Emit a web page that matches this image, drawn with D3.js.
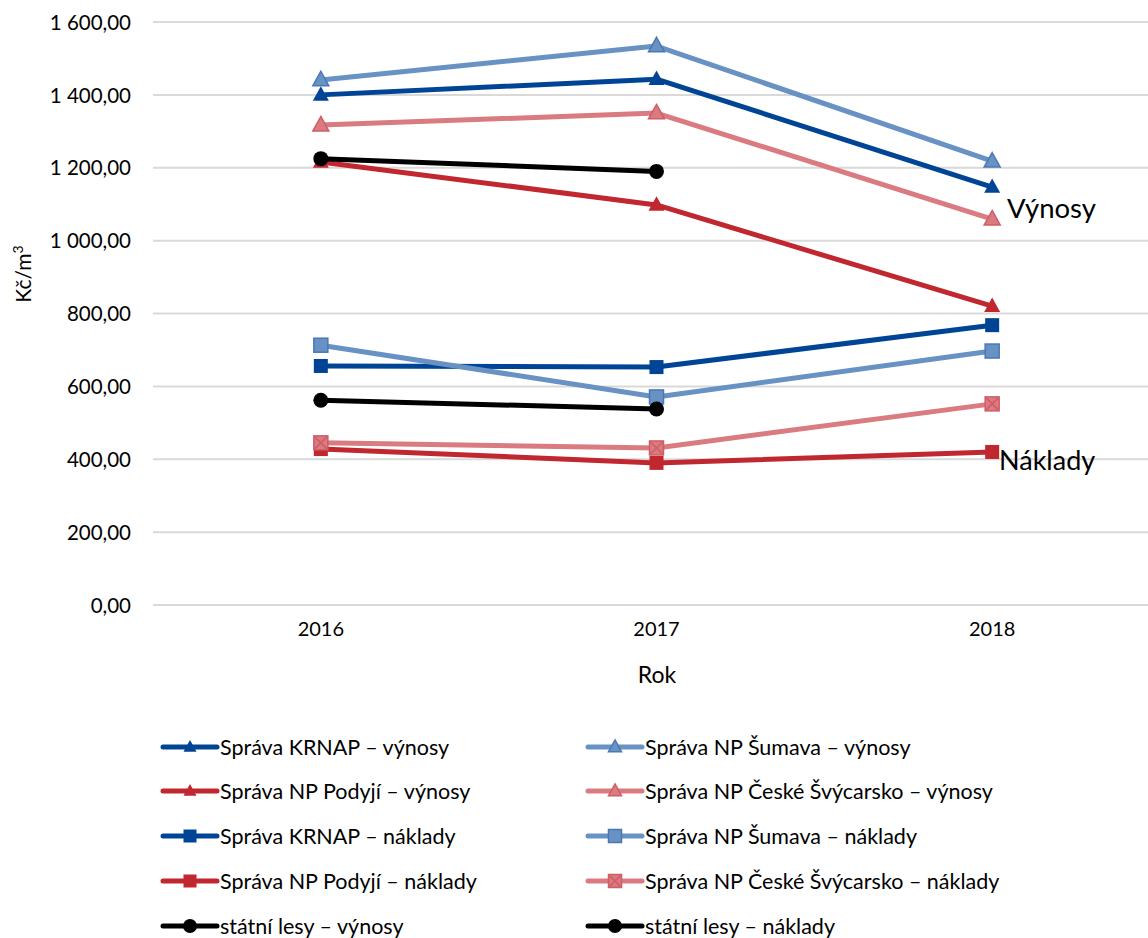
<!DOCTYPE html>
<html>
<head>
  <meta charset="utf-8">
  <title>Kč/m3</title>
  <style type="text/css">
    body { margin: 0; background: #fff; }
    svg text { font-family: Lato, "Open Sans", sans-serif; fill: #000; }
    .grid line { stroke: #d9d9d9; stroke-width: 2px; }
    .axis path, .axis line { display: none; }
  </style>
</head>
<body>
<div id="chart"></div>
<script src="https://cdnjs.cloudflare.com/ajax/libs/d3/7.8.5/d3.min.js"></script>
<script type="text/javascript">
  // data
  var years = ['2016', '2017', '2018'];
  var yTicks = [0, 200, 400, 600, 800, 1000, 1200, 1400, 1600];

  var krnapVynosy = [1400, 1443, 1147];
  var sumavaVynosy = [1441, 1534, 1218];
  var podyjiVynosy = [1216, 1098, 820];
  var csVynosy = [1317, 1350, 1059];
  var krnapNaklady = [656, 653, 768];
  var sumavaNaklady = [713, 571, 697];
  var podyjiNaklady = [428, 390, 420];
  var csNaklady = [445, 431, 552];
  var lesyVynosy = [1225, 1190, null];
  var lesyNaklady = [562, 538, null];

  var seriesNames = [
    'Správa KRNAP – výnosy', 'Správa NP Šumava – výnosy',
    'Správa NP Podyjí – výnosy', 'Správa NP České Švýcarsko – výnosy',
    'Správa KRNAP – náklady', 'Správa NP Šumava – náklady',
    'Správa NP Podyjí – náklady', 'Správa NP České Švýcarsko – náklady',
    'státní lesy – výnosy', 'státní lesy – náklady'
  ];
  var seriesValues = [krnapVynosy, sumavaVynosy, podyjiVynosy, csVynosy,
    krnapNaklady, sumavaNaklady, podyjiNaklady, csNaklady, lesyVynosy, lesyNaklady];

  var darkBlue = '#004595', lightBlue = '#6891c4',
      darkRed = '#c0272f', lightRed = '#da7a81';
  var seriesColors = [darkBlue, lightBlue, darkRed, lightRed,
    darkBlue, lightBlue, darkRed, lightRed, '#000', '#000'];
  var seriesMarkers = ['tri', 'triL', 'tri', 'triL', 'sq', 'sqL', 'sq', 'sqX', 'dot', 'dot'];

  var cfg = { w: 1148, h: 938, left: 153, right: 1160, top: 22, bottom: 605 };

  var svg = d3.select('#chart').append('svg')
    .attr('width', cfg.w)
    .attr('height', cfg.h);

  var xSc = d3.scaleBand().domain(years).range([cfg.left, cfg.right]);
  var ySc = d3.scaleLinear().domain([0, 1600]).range([cfg.bottom, cfg.top]);
  var xc = function(y) { return xSc(y) + xSc.bandwidth() / 2 };

  // gridlines
  svg.append('g').attr('class', 'grid')
    .selectAll('line').data(yTicks).enter().append('line')
    .attr('x1', cfg.left).attr('x2', cfg.w)
    .attr('y1', function(d) { return ySc(d) })
    .attr('y2', function(d) { return ySc(d) });

  var fmt = function(d) {
    return d3.format(',.2f')(d).replace(/,/g, ' ').replace('.', ',');
  };

  var yAxis = d3.axisLeft(ySc).tickValues(yTicks).tickFormat(fmt).tickSize(0).tickPadding(0);
  svg.append('g').attr('class', 'axis')
    .attr('transform', 'translate(131,0)')
    .call(yAxis)
    .selectAll('text').style('font-size', '20.5px').attr('dy', '0.35em');

  var xAxis = d3.axisBottom(xSc).tickSize(0).tickPadding(0);
  svg.append('g').attr('class', 'axis')
    .attr('transform', 'translate(0,' + 622 + ')')
    .call(xAxis)
    .selectAll('text').style('font-size', '20px').attr('dy', '0.7em');

  svg.append('text').attr('x', 657).attr('y', 683)
    .attr('text-anchor', 'middle').style('font-size', '23px').text('Rok');

  var yt = svg.append('text')
    .attr('transform', 'translate(31,274) rotate(-90)')
    .attr('text-anchor', 'middle').style('font-size', '21px');
  yt.append('tspan').text('Kč/m');
  yt.append('tspan').attr('dy', '-8').style('font-size', '14px').text('3');

  var drawMarker = function(g, type, color, x, y, s) {
    var stroke = color === lightBlue ? '#4a78b5' : (color === lightRed ? '#cf5d66' : color);
    if (type === 'tri' || type === 'triL') {
      var h = s * 0.9;
      g.append('path')
        .attr('d', 'M' + x + ',' + (y - h * 0.6) + 'L' + (x + s / 2) + ',' + (y + h * 0.4) +
          'L' + (x - s / 2) + ',' + (y + h * 0.4) + 'Z')
        .attr('fill', color).attr('stroke', stroke).attr('stroke-width', type === 'triL' ? 1.5 : 0);
    } else if (type === 'sq' || type === 'sqL' || type === 'sqX') {
      g.append('rect')
        .attr('x', x - s / 2).attr('y', y - s / 2).attr('width', s).attr('height', s)
        .attr('fill', color).attr('stroke', stroke).attr('stroke-width', type === 'sq' ? 0 : 1.5);
      if (type === 'sqX') {
        var k = s / 2 - 1;
        g.append('path')
          .attr('d', 'M' + (x - k) + ',' + (y - k) + 'L' + (x + k) + ',' + (y + k) +
            'M' + (x + k) + ',' + (y - k) + 'L' + (x - k) + ',' + (y + k))
          .attr('stroke', stroke).attr('stroke-width', 1.5);
      }
    } else {
      g.append('circle').attr('cx', x).attr('cy', y).attr('r', s / 2).attr('fill', color);
    }
  };

  var line = d3.line()
    .defined(function(d) { return d.v != null })
    .x(function(d) { return xc(d.year) })
    .y(function(d) { return ySc(d.v) });

  seriesValues.forEach(function(vals, i) {
    var pts = years.map(function(y, j) { return { year: y, v: vals[j] } });
    var g = svg.append('g');
    g.append('path').datum(pts)
      .attr('d', line)
      .attr('fill', 'none')
      .attr('stroke', seriesColors[i])
      .attr('stroke-width', 5)
      .attr('stroke-linejoin', 'round');
    pts.filter(function(d) { return d.v != null }).forEach(function(d) {
      drawMarker(g, seriesMarkers[i], seriesColors[i], xc(d.year), ySc(d.v),
        seriesMarkers[i] === 'dot' ? 15 : (seriesMarkers[i].indexOf('tri') === 0 ? 16 : 14));
    });
  });

  svg.append('text').attr('x', 1007).attr('y', 218).style('font-size', '27.5px').text('Výnosy');
  svg.append('text').attr('x', 999).attr('y', 470).style('font-size', '27px').text('Náklady');

  // legend, two columns
  var legendRows = [747, 791, 836, 881, 926];
  var legendCols = [163, 588];
  seriesNames.forEach(function(name, i) {
    var lx = legendCols[i % 2], ly = legendRows[Math.floor(i / 2)];
    var g = svg.append('g');
    g.append('line').attr('x1', lx).attr('x2', lx + 54)
      .attr('y1', ly).attr('y2', ly)
      .attr('stroke', seriesColors[i]).attr('stroke-width', 5)
      .attr('stroke-linecap', 'round');
    drawMarker(g, seriesMarkers[i], seriesColors[i], lx + 27, ly,
      seriesMarkers[i] === 'dot' ? 14 : 13);
    g.append('text').attr('x', lx + 57).attr('y', ly).attr('dy', '0.35em')
      .style('font-size', '21.5px').text(name);
  });
</script>
</body>
</html>
